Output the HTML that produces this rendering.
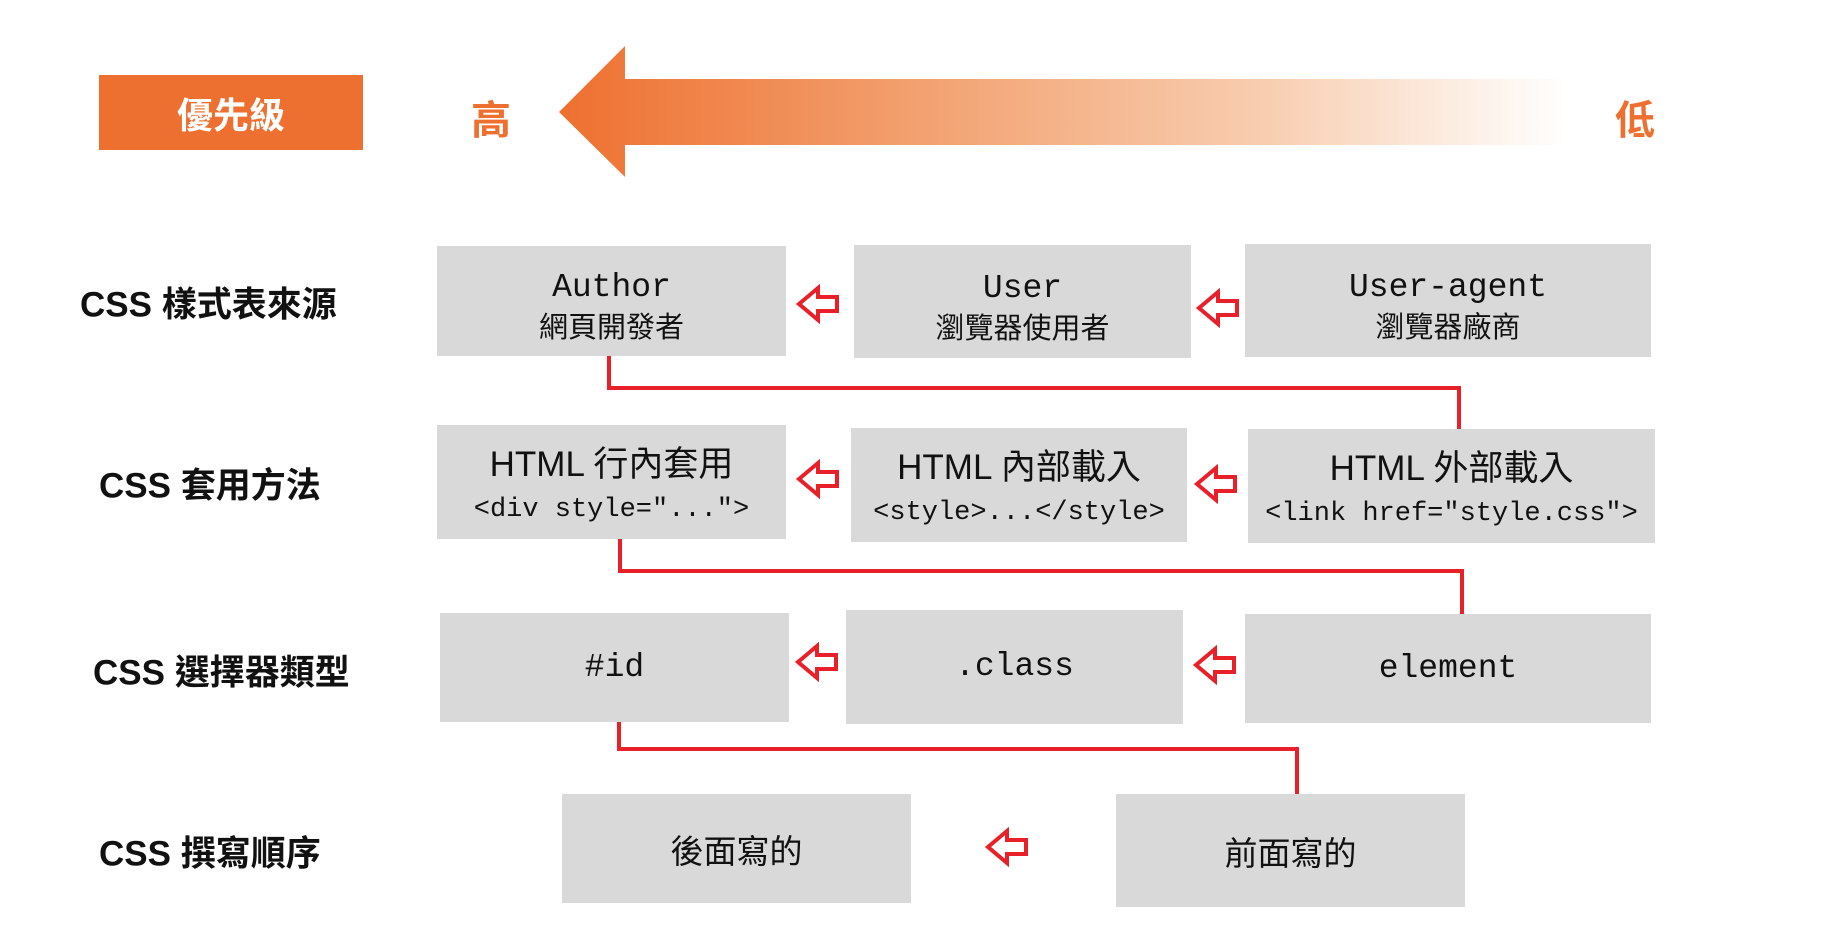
<!DOCTYPE html>
<html><head><meta charset="utf-8"><style>
html,body{margin:0;padding:0;background:#fff;width:1846px;height:952px;overflow:hidden;position:relative}
.a{position:absolute}
.box{position:absolute;background:#d9d9d9;display:flex;flex-direction:column;align-items:center;justify-content:center;color:#111}
.mono{font-family:"Liberation Mono","Noto Sans CJK TC",monospace}
.cjk{font-family:"Liberation Sans","Noto Sans CJK TC",sans-serif}
.lbl{position:absolute;font-family:"Liberation Sans","Noto Sans CJK TC",sans-serif;font-weight:bold;font-size:35px;color:#111;white-space:nowrap;transform:translateY(-50%)}
.t1{font-size:33px;line-height:40px}
.t2{font-size:29px;line-height:40px}
.h{font-size:35px;line-height:48px}
.c{font-size:27px;line-height:42px}
.dn{padding-top:14px;box-sizing:border-box}
.dn2{padding-top:8px;box-sizing:border-box}
</style></head><body>
<div class="a" style="left:99px;top:75px;width:264px;height:75px;background:#ee7030;color:#fff;font:bold 36px 'Liberation Sans','Noto Sans CJK TC',sans-serif;display:flex;align-items:center;justify-content:center">優先級</div>
<div class="a cjk" style="left:471px;top:88px;font-size:40px;font-weight:bold;color:#ee7030">高</div>
<div class="a cjk" style="left:1615px;top:88px;font-size:40px;font-weight:bold;color:#ee7030">低</div>
<svg class="a" style="left:0;top:0" width="1846" height="952">
<defs><linearGradient id="g" x1="559" y1="0" x2="1565" y2="0" gradientUnits="userSpaceOnUse">
<stop offset="0" stop-color="#ee7030"/><stop offset="0.35" stop-color="#f2a06e"/><stop offset="0.7" stop-color="#f8cdb0"/><stop offset="1" stop-color="#fff"/></linearGradient>
<path id="ar" d="M-19,0 L0,-16 L0,-7 L19,-7 L19,7 L0,7 L0,16 Z"/>
</defs>
<polygon points="559,112 625,46 625,79 1565,79 1565,145 625,145 625,177" fill="url(#g)"/>
<g fill="none" stroke="#e8202a" stroke-width="4">
<polyline points="609,350 609,388 1459,388 1459,440"/>
<polyline points="620,535 620,571 1462,571 1462,620"/>
<polyline points="619,718 619,749 1297,749 1297,797"/>
</g>
<g fill="#fff" stroke="#e8202a" stroke-width="4">
<use href="#ar" x="818" y="304"/><use href="#ar" x="1218" y="308"/>
<use href="#ar" x="818" y="479"/><use href="#ar" x="1216" y="484"/>
<use href="#ar" x="817" y="662"/><use href="#ar" x="1215" y="665"/>
<use href="#ar" x="1007" y="847"/>
</g>
</svg>
<div class="lbl" style="left:80px;top:302px">CSS 樣式表來源</div>
<div class="lbl" style="left:99px;top:483px">CSS 套用方法</div>
<div class="lbl" style="left:93px;top:670px">CSS 選擇器類型</div>
<div class="lbl" style="left:99px;top:851px">CSS 撰寫順序</div>

<div class="box dn" style="left:437px;top:246px;width:349px;height:110px"><div class="mono t1">Author</div><div class="cjk t2">網頁開發者</div></div>
<div class="box dn" style="left:854px;top:245px;width:337px;height:113px"><div class="mono t1">User</div><div class="cjk t2">瀏覽器使用者</div></div>
<div class="box dn" style="left:1245px;top:244px;width:406px;height:113px"><div class="mono t1">User-agent</div><div class="cjk t2">瀏覽器廠商</div></div>

<div class="box dn2" style="left:437px;top:425px;width:349px;height:114px"><div class="cjk h">HTML 行內套用</div><div class="mono c">&lt;div style="..."&gt;</div></div>
<div class="box dn2" style="left:851px;top:428px;width:336px;height:114px"><div class="cjk h">HTML 內部載入</div><div class="mono c">&lt;style&gt;...&lt;/style&gt;</div></div>
<div class="box dn2" style="left:1248px;top:429px;width:407px;height:114px"><div class="cjk h">HTML 外部載入</div><div class="mono c">&lt;link href="style.css"&gt;</div></div>

<div class="box" style="left:440px;top:613px;width:349px;height:109px"><div class="mono t1">#id</div></div>
<div class="box" style="left:846px;top:610px;width:337px;height:114px"><div class="mono t1">.class</div></div>
<div class="box" style="left:1245px;top:614px;width:406px;height:109px"><div class="mono t1">element</div></div>

<div class="box" style="left:562px;top:794px;width:349px;height:109px"><div class="cjk" style="font-size:33px">後面寫的</div></div>
<div class="box" style="left:1116px;top:794px;width:349px;height:113px"><div class="cjk" style="font-size:33px">前面寫的</div></div>
</body></html>
